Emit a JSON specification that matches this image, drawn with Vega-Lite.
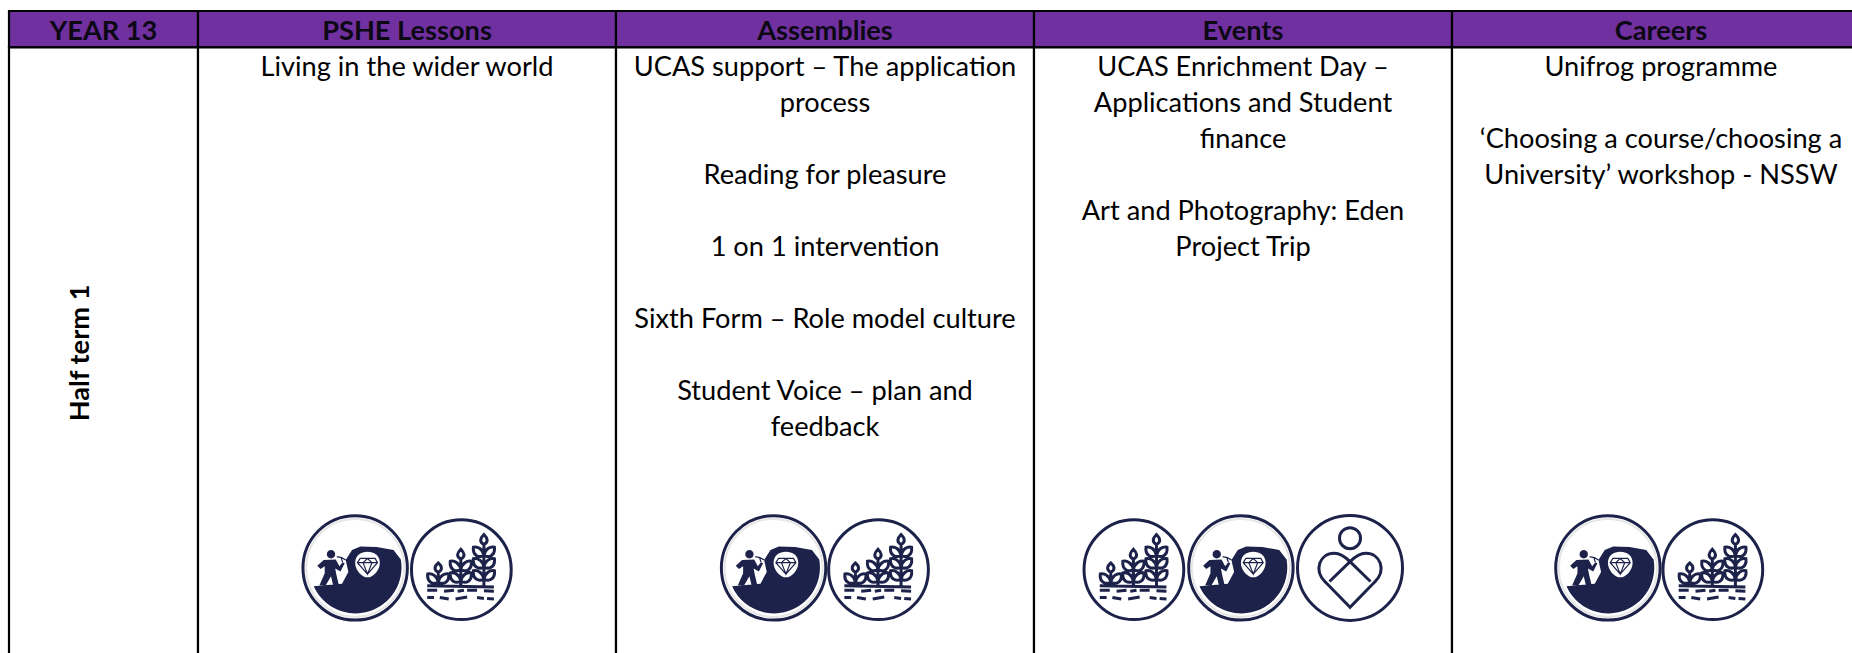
{
"$schema":"https://vega.github.io/schema/vega-lite/v6.json",
"width":1852,"height":653,"padding":0,"autosize":{"type":"none"},
"background":"white",
"config":{"view":{"stroke":null}},
"datasets":{
"cells":[
{"col":0,"colEnd":1,"top":-0.57,"bottom":0.44,"part":"header"},
{"col":1,"colEnd":2,"top":-0.57,"bottom":0.44,"part":"header"},
{"col":2,"colEnd":3,"top":-0.57,"bottom":0.44,"part":"header"},
{"col":3,"colEnd":4,"top":-0.57,"bottom":0.44,"part":"header"},
{"col":4,"colEnd":5,"top":-0.57,"bottom":0.44,"part":"header"},
{"col":0,"colEnd":1,"top":0.44,"bottom":18,"part":"body"},
{"col":1,"colEnd":2,"top":0.44,"bottom":18,"part":"body"},
{"col":2,"colEnd":3,"top":0.44,"bottom":18,"part":"body"},
{"col":3,"colEnd":4,"top":0.44,"bottom":18,"part":"body"},
{"col":4,"colEnd":5,"top":0.44,"bottom":18,"part":"body"}
],
"headers":[
{"pos":0.5,"line":0,"text":"YEAR 13"},
{"pos":1.5,"line":0,"text":"PSHE Lessons"},
{"pos":2.5,"line":0,"text":"Assemblies"},
{"pos":3.5,"line":0,"text":"Events"},
{"pos":4.5,"line":0,"text":"Careers"}
],
"lines":[
{"pos":1.5,"line":1,"text":"Living in the wider world"},
{"pos":2.5,"line":1,"text":"UCAS support – The application"},
{"pos":2.5,"line":2,"text":"process"},
{"pos":2.5,"line":4,"text":"Reading for pleasure"},
{"pos":2.5,"line":6,"text":"1 on 1 intervention"},
{"pos":2.5,"line":8,"text":"Sixth Form – Role model culture"},
{"pos":2.5,"line":10,"text":"Student Voice – plan and"},
{"pos":2.5,"line":11,"text":"feedback"},
{"pos":3.5,"line":1,"text":"UCAS Enrichment Day –"},
{"pos":3.5,"line":2,"text":"Applications and Student"},
{"pos":3.5,"line":3,"text":"finance"},
{"pos":3.5,"line":5,"text":"Art and Photography: Eden"},
{"pos":3.5,"line":6,"text":"Project Trip"},
{"pos":4.5,"line":1,"text":"Unifrog programme"},
{"pos":4.5,"line":3,"text":"‘Choosing a course/choosing a"},
{"pos":4.5,"line":4,"text":"University’ workshop - NSSW"}
],
"rowLabels":[{"pos":0.38,"line":8.93,"text":"Half term 1"}],
"icons":[
{"pos":1.376,"line":14.9,"icon":"mine"},
{"pos":1.63,"line":14.95,"icon":"plant"},
{"pos":2.377,"line":14.9,"icon":"mine"},
{"pos":2.628,"line":14.95,"icon":"plant"},
{"pos":3.239,"line":14.95,"icon":"plant"},
{"pos":3.495,"line":14.9,"icon":"mine"},
{"pos":3.756,"line":14.9,"icon":"heart"},
{"pos":4.373,"line":14.9,"icon":"mine"},
{"pos":4.624,"line":14.95,"icon":"plant"}
]
},
"encoding":{
"x":{"field":"pos","type":"quantitative","axis":null,"scale":{"domain":[0,1,2,3,4,5],"range":[9,198,616,1034,1452,1870],"nice":false,"zero":false}},
"y":{"field":"line","type":"quantitative","axis":null,"scale":{"domain":[-1,18],"range":[-4.5,679.5],"nice":false,"zero":false}}
},
"layer":[
{"data":{"name":"cells"},"mark":{"type":"rect","stroke":"#000000","strokeWidth":2.2},
 "encoding":{"x":{"field":"col","type":"quantitative"},"x2":{"field":"colEnd"},"y":{"field":"top","type":"quantitative"},"y2":{"field":"bottom"},
 "fill":{"field":"part","type":"nominal","legend":null,"scale":{"domain":["header","body"],"range":["#7030A0","#ffffff"]}}}},
{"data":{"name":"headers"},"mark":{"type":"text","font":"Lato","fontSize":27.2,"fontWeight":"bold","color":"#0c0814","align":"center","baseline":"middle"},"encoding":{"text":{"field":"text"}}},
{"data":{"name":"lines"},"mark":{"type":"text","font":"Lato","fontSize":27.2,"color":"#000000","align":"center","baseline":"middle"},"encoding":{"text":{"field":"text"}}},
{"data":{"name":"rowLabels"},"mark":{"type":"text","font":"Lato","fontSize":27.2,"fontWeight":"bold","color":"#000000","align":"center","baseline":"middle","angle":270},"encoding":{"text":{"field":"text"}}},
{"data":{"name":"icons"},"transform":[{"filter":"datum.icon=='mine'"}],"mark":{"type":"point","shape":"circle","size":9600,"filled":false,"stroke":"#e6e6e6","strokeWidth":2,"opacity":1}},
{"data":{"name":"icons"},"transform":[{"filter":"datum.icon=='mine'"}],"mark":{"type":"point","filled":true,"color":"#1c2249","opacity":1,"size":11025,
 "shape":"M 0.87 -0.16 A 0.875 0.875 0 0 1 -0.79 0.35 L -0.25 0.3 L -0.13 0.08 L -0.18 -0.15 L -0.06 -0.34 L 0.1 -0.41 L 0.41 -0.4 L 0.73 -0.34 Z M -0.6 -0.15 L -0.37 -0.16 L -0.3 -0.03 L -0.24 -0.11 L -0.2 -0.09 L -0.28 0.07 L -0.38 0.01 L -0.36 0.12 L -0.31 0.33 L -0.42 0.33 L -0.46 0.16 L -0.56 0.33 L -0.68 0.33 L -0.58 0.1 L -0.58 -0.03 L -0.66 0.02 L -0.72 -0.04 Z M -0.54 -0.26 A 0.08 0.08 0 1 1 -0.38 -0.26 A 0.08 0.08 0 1 1 -0.54 -0.26 Z"}},
{"data":{"name":"icons"},"transform":[{"filter":"datum.icon=='mine'"}],"mark":{"type":"point","filled":true,"color":"#ffffff","opacity":1,"size":11025,
 "shape":"M 0.235 -0.31 C 0.36 -0.31 0.47 -0.24 0.47 -0.1 C 0.47 0.05 0.34 0.18 0.235 0.18 C 0.13 0.18 0 0.05 0 -0.1 C 0 -0.24 0.11 -0.31 0.235 -0.31 Z"}},
{"data":{"name":"icons"},"transform":[{"filter":"datum.icon=='mine'"}],"mark":{"type":"point","filled":false,"stroke":"#1c2249","strokeWidth":1.2,"opacity":1,"size":11025,
 "shape":"M 0.095 -0.18 L 0.38 -0.18 L 0.425 -0.1 L 0.235 0.12 L 0.044 -0.1 Z M 0.044 -0.1 L 0.425 -0.1 M 0.15 -0.1 L 0.235 0.12 L 0.32 -0.1 L 0.235 -0.18 L 0.15 -0.1 M -0.35 -0.21 Q -0.27 -0.22 -0.18 -0.15 M -0.24 -0.11 L -0.27 -0.2"}},
{"data":{"name":"icons"},"transform":[{"filter":"datum.icon=='mine'"}],"mark":{"type":"point","shape":"circle","size":10900,"filled":false,"stroke":"#1c2249","strokeWidth":3,"opacity":1}},
{"data":{"name":"icons"},"transform":[{"filter":"datum.icon=='plant'"}],"mark":{"type":"point","filled":false,"stroke":"#1c2249","strokeWidth":3,"opacity":1,"size":11025,
 "shape":"M -0.95 0 A 0.95 0.95 0 1 1 0.95 0 A 0.95 0.95 0 1 1 -0.95 0 Z M -0.65 0.305 L 0.62 0.33 M -0.65 0.39 L -0.46 0.39 M -0.33 0.41 L -0.14 0.39 M -0.07 0.41 L 0.05 0.39 M 0.11 0.39 L 0.3 0.39 M 0.43 0.4 L 0.62 0.41 M -0.65 0.53 L -0.52 0.53 M -0.41 0.53 L -0.24 0.56 M -0.11 0.56 L 0.11 0.52 M 0.3 0.53 L 0.43 0.55 M 0.49 0.55 L 0.62 0.56 M -0.44 0.24 C -0.54 0.29 -0.66 0.24 -0.64 0.08 C -0.56 0.06 -0.46 0.12 -0.44 0.24 M -0.44 0.24 C -0.34 0.29 -0.22 0.24 -0.24 0.08 C -0.32 0.06 -0.42 0.12 -0.44 0.24 M -0.44 0.05 C -0.54 0 -0.5 -0.08 -0.44 -0.13 C -0.38 -0.08 -0.34 0 -0.44 0.05 M -0.44 0.05 L -0.44 0.3 M -0.01 0 C -0.11 0.05 -0.23 0 -0.21 -0.16 C -0.13 -0.18 -0.03 -0.12 -0.01 0 M -0.01 0 C 0.09 0.05 0.21 0 0.19 -0.16 C 0.11 -0.18 0.01 -0.12 -0.01 0 M -0.01 0.22 C -0.11 0.27 -0.23 0.22 -0.21 0.06 C -0.13 0.04 -0.03 0.1 -0.01 0.22 M -0.01 0.22 C 0.09 0.27 0.21 0.22 0.19 0.06 C 0.11 0.04 0.01 0.1 -0.01 0.22 M -0.01 -0.2 C -0.11 -0.25 -0.07 -0.33 -0.01 -0.39 C 0.05 -0.33 0.09 -0.25 -0.01 -0.2 M -0.01 -0.2 L -0.01 0.3 M 0.43 -0.27 C 0.33 -0.22 0.21 -0.27 0.23 -0.43 C 0.31 -0.45 0.41 -0.39 0.43 -0.27 M 0.43 -0.27 C 0.53 -0.22 0.65 -0.27 0.63 -0.43 C 0.55 -0.45 0.45 -0.39 0.43 -0.27 M 0.43 -0.05 C 0.33 0 0.21 -0.05 0.23 -0.21 C 0.31 -0.23 0.41 -0.17 0.43 -0.05 M 0.43 -0.05 C 0.53 0 0.65 -0.05 0.63 -0.21 C 0.55 -0.23 0.45 -0.17 0.43 -0.05 M 0.43 0.18 C 0.33 0.23 0.21 0.18 0.23 0.02 C 0.31 0 0.41 0.06 0.43 0.18 M 0.43 0.18 C 0.53 0.23 0.65 0.18 0.63 0.02 C 0.55 0 0.45 0.06 0.43 0.18 M 0.43 -0.48 C 0.33 -0.53 0.37 -0.61 0.43 -0.67 C 0.49 -0.61 0.53 -0.53 0.43 -0.48 M 0.43 -0.48 L 0.43 0.3"}},
{"data":{"name":"icons"},"transform":[{"filter":"datum.icon=='heart'"}],"mark":{"type":"point","filled":false,"stroke":"#1c2249","strokeWidth":3,"opacity":1,"size":11025,
 "shape":"M -1 0 A 1 1 0 1 1 1 0 A 1 1 0 1 1 -1 0 Z M -0.2 -0.565 A 0.2 0.2 0 1 1 0.2 -0.565 A 0.2 0.2 0 1 1 -0.2 -0.565 Z M 0 0.75 L -0.47 0.27 C -0.7 0.05 -0.58 -0.28 -0.3 -0.28 C -0.18 -0.28 -0.08 -0.2 0 -0.12 C 0.08 -0.2 0.18 -0.28 0.3 -0.28 C 0.58 -0.28 0.7 0.05 0.47 0.27 Z M -0.39 0.26 L 0 -0.12 L 0.39 0.26"}}
]
}
